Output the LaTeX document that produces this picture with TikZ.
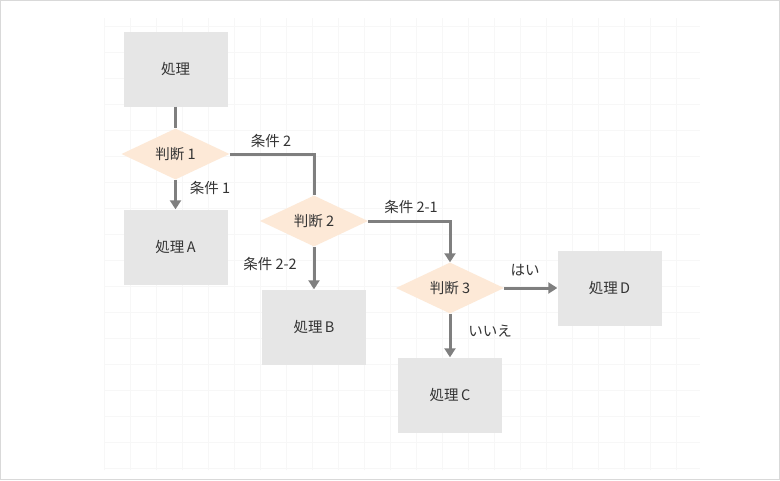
\documentclass[tikz,border=0pt]{standalone}
\usepackage{fontspec}
\setmainfont{Noto Sans CJK JP}
\usetikzlibrary{arrows.meta,shapes.geometric}
\definecolor{boxfill}{HTML}{E6E6E6}
\definecolor{diafill}{HTML}{FDE9D7}
\definecolor{linegray}{HTML}{7F7F7F}
\definecolor{txt}{HTML}{333333}
\definecolor{gridc}{HTML}{F7F7F7}
\definecolor{framec}{HTML}{D9D9D9}
\tikzset{
  procbox/.style={rectangle, fill=boxfill, minimum width=104pt, minimum height=75pt, inner sep=0pt, text=txt, font=\fontsize{14.5}{16}\selectfont},
  decision/.style={diamond, fill=diafill, minimum width=108pt, minimum height=51pt, aspect=2.1, inner sep=0pt, text=txt, font=\fontsize{14.5}{16}\selectfont},
  conn/.style={draw=linegray, line width=3pt},
  arr/.style={conn, -{Triangle[width=11pt,length=9pt]}},
  lbl/.style={text=txt, font=\fontsize{14.5}{16}\selectfont, inner sep=0pt}
}
\begin{document}
\begin{tikzpicture}[x=1pt,y=-1pt]
\useasboundingbox (0,0) rectangle (780,480);
\fill[white] (0,0) rectangle (780,480);
\draw[gridc, line width=0.5pt, step=26pt] (104,18) grid (700,470);
\draw[framec, line width=1.2pt] (0.6,0.6) rectangle (779.4,479.4);
% nodes
\node[procbox] (p0) at (175.5,69) {処理};
\node[decision] (d1) at (175.5,154) {判断 1};
\node[procbox] (pA) at (175.5,247) {処理\,A};
\node[decision] (d2) at (314,221) {判断 2};
\node[procbox] (pB) at (314,327) {処理\,B};
\node[decision] (d3) at (450,288) {判断 3};
\node[procbox] (pC) at (450,395) {処理\,C};
\node[procbox] (pD) at (609.5,288) {処理\,D};
% connectors
\draw[conn] (p0.south) -- (d1.north);
\draw[arr] (d1.south) -- (pA.north);
\draw[conn] (d1.east) -| (d2.north);
\draw[arr] (d2.east) -| (d3.north);
\draw[arr] (d2.south) -- (pB.north);
\draw[arr] (d3.east) -- (pD.west);
\draw[arr] (d3.south) -- (pC.north);
% labels
\node[lbl] (l1) at (210,188) {条件 1};
\node[lbl] (l2) at (271,141) {条件 2};
\node[lbl] (l21) at (411,207) {条件 2-1};
\node[lbl] (l22) at (270,264) {条件 2-2};
\node[lbl] (lyes) at (525,270) {はい};
\node[lbl] (lno) at (490,331) {いいえ};
\end{tikzpicture}
\end{document}
